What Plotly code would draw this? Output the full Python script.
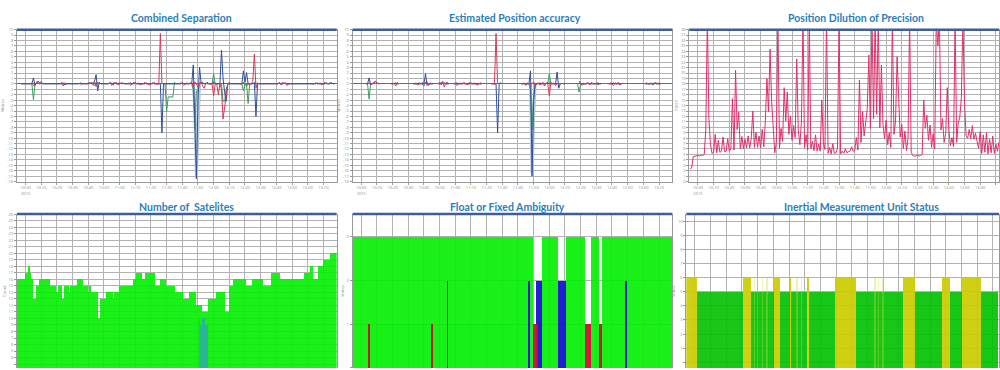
import plotly.graph_objects as go

N = None

# ---------------- shared time axis (sample index) and tick labels ----------------
t = list(range(204))
tick_vals = [5, 15, 25, 35, 45, 55, 65, 75, 85, 95, 105, 115, 125, 135, 145, 155, 165, 175, 185, 195]
tick_text = ["10:00<br>2015", "10:10", "10:20", "10:30", "10:40", "10:50", "11:00", "11:10", "11:20", "11:30",
             "11:40", "11:50", "12:00", "12:10", "12:20", "12:30", "12:40", "12:50", "13:00", "13:10"]

# ---------------- Combined Separation (m) ----------------
sep_red = [
    N, N, N, N, N, N, N, N, 0, 0.2,
    -0.3, 0.1, 0.3, 0.2, 0, 0.1, 0, N, N, N,
    N, N, N, N, N, N, N, 0, 0.3, -0.4,
    0.2, 0, N, N, N, N, N, N, N, N,
    -0.2, 0, N, N, 0, 0.2, 0, 0.3, -0.2, 0.4,
    -0.5, 0.3, 0, N, N, N, N, N, 0, 0.2,
    -0.3, 0.2, 0, 0.3, -0.2, 0, 0.2, 0, N, N,
    0, 0.2, -0.3, 0, 0.3, 0, 0, 0.2, -0.2, 0,
    0, 0.3, 0, 0, -0.2, 0, 0.2, 0, 0, 0,
    0, 9.3, 0, N, N, N, N, N, N, N,
    N, N, N, 0, 0.2, 0, -0.3, 0, 0.2, 0,
    0, 0.3, -0.5, 0.4, 0, -0.6, 0.2, 0.3, -0.4, -0.8,
    0.2, 0, 0, 0, 0, -2.2, 0, 0, -2.0, 0,
    -1.0, -6.5, -4.0, -2.5, 0, 0.3, 0, N, N, N,
    N, N, 0, 0, 0.3, 0, -0.4, 0, 0, 0,
    0.5, 5.5, -0.8, 0.2, 0, N, N, N, N, N,
    N, N, N, N, N, 0, 0, 0.2, -0.2, 0.3,
    0, 0.2, -0.3, 0, N, N, N, N, N, N,
    N, N, N, N, N, N, N, N, 0, 0,
    0.2, 0, 0, 0.2, -0.2, 0, 0.3, 0, 0, 0.2,
    0, N, N, N]
sep_blue = [
    N, N, 0, 0, 0, 0, 0, 0, 0, 0,
    1.1, -0.3, 0.3, 0.5, 0.2, 0.4, 0, 0, 0, 0,
    0, 0, 0, 0, 0, 0, 0, 0, 0, 0.2,
    -0.2, 0, 0, 0, 0, 0, 0, 0, 0, 0,
    0.2, 0, 0, 0, 0, 0, 0.3, 0, 0.2, 0.5,
    1.7, -1.3, 0.3, 0, 0, 0, 0, 0, 0, 0.3,
    0, -0.2, 0.3, 0, 0, 0.2, 0, 0.2, 0, 0,
    0, 0, 0.2, 0, 0, 0.3, 0, 0, 0, 0,
    0, 0, 0.2, 0, 0, 0, 0, 0.3, 0, 0,
    0, 0, -9.0, 0, 0, 0, 0, 0, 0, 0,
    0, 0, 0, 0, 0, 0.3, 0, 0, 0, 0,
    0.2, 0, 3.5, -6.0, -17.5, -3.0, 3.1, 0.2, 0.3, 0,
    0, 0.3, 0, 0, 0, 0.4, 0, 0, 0, 0,
    6.2, 1.0, -1.5, -3.2, 0, 0, 0, 0, 0, 0,
    0, 0, 0, 0, 2.4, 0.3, 2.1, 0, 0, 0,
    0, 0.3, -6.0, 0, 0, 0, 0, 0, 0, 0,
    0, 0, 0, 0, 0, 0, 0, 0.3, 0, 0,
    0.2, 0, 0, 0, 0, 0, 0, 0, 0, 0,
    0, 0, 0, 0, 0, 0, 0, 0, 0, 0,
    0, 0.2, 0, 0, 0, 0, 0, 0.2, 0, 0,
    0.3, 0, 0, N]
sep_green_t = [9, 10, 11, N, 48, 49, 50, 51, N, 94, 95, 96, 97, 98, 99, 100, 101, N,
               111, 112, 113, 114, 115, 116, N, 124, 125, 126, N, 130, 131, 132, 133, 134, N,
               143, 144, 145, 146, 147, 148]
sep_green = [0, -2.9, 0, N, 0, -0.4, 0.3, 0, N, 0, -5.1, -2.4, -2.4, -2.4, -2.4, 0.3, 0, N,
             0, -1.0, -8.4, -1.3, -1.3, 0, N, 0, 1.9, 0, N, 0, -3.2, -3.2, -1.0, 0, N,
             0, -1.3, 0, 0, -3.6, 0]
sep_env_t = [112, 113, 114, 115, 116]
sep_env = [0, -4.0, -17.0, -8.0, 0]

# ---------------- Estimated Position accuracy (m) ----------------
acc_red = [
    N, N, N, N, N, N, N, N, N, 0,
    0.2, -0.2, 0, 0.3, 0.4, 0.2, 0, N, N, N,
    N, N, N, N, N, 0, 0.2, -0.4, 0.3, 0,
    N, N, N, N, N, N, N, N, N, 0,
    0.2, -0.2, 0, 0, 0.3, 0, 0.2, 0.4, -0.3, 0.2,
    0, N, N, N, 0, 0.3, -0.2, 0.5, -0.6, 0.2,
    0.3, 0, N, N, 0, 0.2, -0.3, 0, 0.2, 0,
    0, 0.2, 0, -0.2, 0.3, 0, 0, 0.2, 0, -0.2,
    0, 0.2, 0, N, N, N, N, N, N, 0,
    0, 9.3, 0, N, N, N, N, N, N, N,
    N, N, N, N, N, N, N, N, 0, 0.2,
    -0.3, 0.2, 0, 0, 0, 0.4, -0.3, 0, 0.2, -0.2,
    0, 0.3, -0.4, 0.2, 0, -2.2, 0.3, 0, 0.2, -0.3,
    0, 0, 0, N, 0, 0.2, N, N, N, N,
    N, N, N, N, 0, 0.2, -0.3, 0, 0, 0.2,
    0, -0.2, 0.3, 0, 0, 0.2, -0.2, 0, N, N,
    N, N, N, 0, 0.2, 0, -0.3, 0.2, 0, 0.3,
    -0.2, 0, N, N, N, N, N, N, N, N,
    N, N, N, N, N, N, 0, 0.2, 0, 0,
    0.2, -0.2, 0, 0.3, 0, 0.2, 0, N, N, N,
    N, N, N, N]
acc_blue = [
    N, N, N, N, N, N, N, N, 0, 0,
    1.1, -0.2, 0, 0.3, 0.5, 0.2, 0, N, N, N,
    N, N, N, N, 0, 0, 0, 0.2, 0, 0,
    N, N, N, N, N, N, N, N, 0, 0,
    0, 0, 0.2, 0, 0, 0, 1.9, -0.3, 0, 0,
    0, 0, N, N, 0, 0, 0.3, 0, 0.2, 0,
    0, 0, N, N, 0, 0, 0.2, 0, 0, 0,
    0.2, 0, 0, 0, 0, 0.2, 0, 0, 0, 0,
    0, 0, 0, N, N, N, N, N, 0, 0,
    0, 0, -9.0, 0, 0.3, N, N, N, N, N,
    N, N, N, N, N, N, N, 0, 0, 0,
    0, 0, 0, 2.4, -17.0, -3.0, 0, 0, 0, 0.2,
    0, 0, 0, 0, 0.3, 0, 0, 0, 0, 0,
    2.2, -0.8, 0, N, 0, 0, N, N, N, N,
    N, N, N, N, 0.5, 0, 0, 0, 0, 0,
    0.2, 0, 0, 0, 0, 0, 0.2, 0, 0, N,
    N, N, N, 0, 0, 0, 0.2, 0, 0, 0,
    0, 0, N, N, N, N, N, N, N, N,
    N, N, N, N, N, N, 0, 0, 0, 0,
    0, 0, 0.2, 0, 0, 0, 0, N, N, N,
    N, N, N, N]
acc_green_t = [9, 10, 11, N, 44, 45, 46, 47, N, 112, 113, 114, 115, 116, N, 124, 125, 126, N, 143, 144, 145]
acc_green = [0, -2.8, 0, N, 0, -0.4, 0.3, 0, N, 0, -1.0, -8.4, -2.0, 0, N, 0, 1.9, 0, N, 0, -1.5, 0]
acc_env_t = [113, 114, 115, 116]
acc_env = [0, -16.5, -6.0, 0]

# ---------------- Position Dilution of Precision ----------------
pdop = [
    2.4, 2.5, 4.6, 4.7, 4.7, 4.8, 4.7, 4.9, 4.8, 5.0,
    9.5, 30, 11.6, 6.8, 5.2, 5.4, 8.7, 5.3, 7.6, 5.4,
    5.6, 8.2, 5.5, 5.6, 7.9, 5.6, 6.0, 15.3, 5.8, 20.5,
    9.6, 12.8, 6.0, 8.3, 6.1, 7.8, 6.2, 8.4, 6.2, 8.0,
    13.0, 6.3, 9.1, 6.3, 8.4, 6.2, 9.6, 6.4, 11.2, 19.0,
    12.9, 24.4, 14.8, 10.1, 5.3, 7.2, 30, 6.1, 9.8, 7.4,
    17.3, 11.2, 16.5, 8.7, 12.1, 7.6, 10.3, 8.1, 22.6, 9.4,
    6.8, 11.0, 30, 6.2, 8.6, 5.8, 30, 6.0, 7.4, 5.7,
    8.6, 5.6, 6.9, 5.6, 15.0, 7.1, 5.9, 30, 5.2, 6.3,
    5.1, 7.0, 5.2, 5.3, 6.1, 30, 5.1, 5.6, 5.2, 6.0,
    5.3, 5.5, 5.6, 6.4, 5.6, 5.7, 8.1, 5.8, 18.7, 7.2,
    12.9, 8.4, 10.9, 13.5, 23.3, 9.8, 30, 11.6, 30, 12.4,
    30, 9.9, 21.5, 10.6, 7.9, 11.3, 6.8, 9.0, 6.3, 30,
    8.7, 11.0, 23.0, 14.4, 8.2, 10.5, 6.1, 9.3, 5.7, 8.0,
    30, 5.4, 4.8, 4.7, 4.7, 4.9, 4.7, 4.8, 5.0, 15.0,
    9.8, 12.2, 7.6, 10.4, 6.3, 8.8, 6.0, 30, 25.0, 30,
    9.5, 11.6, 7.2, 8.9, 17.3, 9.7, 6.6, 8.1, 6.4, 30,
    7.2, 10.8, 11.9, 15.5, 30, 14.7, 8.4, 8.0, 9.6, 7.9,
    10.3, 7.8, 8.9, 7.4, 6.1, 9.2, 5.2, 8.6, 5.4, 9.0,
    5.1, 7.8, 5.3, 8.4, 5.2, 6.9, 5.6, 7.3]

# ---------------- Number of Satelites ----------------
sats = [
    16, 16, 16, 16, 16, 17, 17, 18, 17, 16,
    13, 13, 15, 15, 16, 16, 16, 16, 16, 16,
    16, 15, 15, 15, 15, 14, 15, 15, 15, 13,
    15, 15, 15, 14, 15, 15, 15, 15, 16, 16,
    16, 16, 15, 15, 15, 14, 15, 14, 14, 14,
    14, 14, 10, 13, 13, 13, 13, 14, 14, 14,
    14, 13, 14, 14, 14, 15, 15, 15, 15, 15,
    15, 15, 15, 15, 16, 16, 17, 17, 17, 17,
    16, 16, 17, 17, 17, 17, 17, 17, 15, 15,
    15, 16, 16, 16, 16, 15, 15, 15, 15, 15,
    15, 14, 14, 14, 14, 14, 13, 13, 13, 13,
    14, 14, 14, 14, 12, 12, 12, 12, 11, 11,
    11, 11, 13, 13, 13, 13, 13, 14, 14, 14,
    14, 14, 14, 11, 11, 15, 15, 15, 16, 16,
    16, 16, 16, 16, 16, 16, 15, 15, 15, 15,
    16, 16, 16, 16, 16, 16, 16, 15, 15, 15,
    15, 15, 17, 17, 17, 17, 17, 17, 16, 16,
    16, 16, 16, 16, 16, 16, 16, 16, 16, 16,
    16, 16, 16, 17, 17, 17, 17, 18, 18, 16,
    16, 16, 18, 18, 18, 19, 19, 19, 19, 19,
    20, 20, 20, 20]
sats_b_t = [116, 117, 118, 119, 120, 121]
sats_b = [10, 9, 10, 10, 9, 9]

# ---------------- Float or Fixed Ambiguity ----------------
amb_fixed = [
    3, 3, 3, 3, 3, 3, 3, 3, 3, 3,
    3, 3, 3, 3, 3, 3, 3, 3, 3, 3,
    3, 3, 3, 3, 3, 3, 3, 3, 3, 3,
    3, 3, 3, 3, 3, 3, 3, 3, 3, 3,
    3, 3, 3, 3, 3, 3, 3, 3, 3, 3,
    3, 3, 3, 3, 3, 3, 3, 3, 3, 3,
    3, 3, 3, 3, 3, 3, 3, 3, 3, 3,
    3, 3, 3, 3, 3, 3, 3, 3, 3, 3,
    3, 3, 3, 3, 3, 3, 3, 3, 3, 3,
    3, 3, 3, 3, 3, 3, 3, 3, 3, 3,
    3, 3, 3, 3, 3, 3, 3, 3, 3, 3,
    3, 3, 3, 3, 3, N, N, N, N, N,
    N, 3, 3, 3, 3, 3, 3, 3, 3, 3,
    3, N, N, N, N, N, 3, 3, 3, 3,
    3, 3, 3, 3, 3, 3, 3, 3, N, N,
    N, N, 3, 3, 3, 3, 3, N, N, 3,
    3, 3, 3, 3, 3, 3, 3, 3, 3, 3,
    3, 3, 3, 3, 3, 3, 3, 3, 3, 3,
    3, 3, 3, 3, 3, 3, 3, 3, 3, 3,
    3, 3, 3, 3, 3, 3, 3, 3, 3, 3,
    3, 3, 3, 3]
amb_blue_t = [60, 112, 117, 118, 119, 120, 131, 132, 133, 134, 135, 174]
amb_blue = [2, 2, 2, 2, 2, 2, 2, 2, 2, 2, 2, 2]
amb_red_t = [10, 50, 115, 116, 117, 148, 149, 150, 151, 157, 158]
amb_red = [1, 1, 1, 1, 1, 1, 1, 1, 1, 1, 1]

# ---------------- Inertial Measurement Unit Status ----------------
imu_status = [
    6, 6, 6, 6, 6, 6, 6, 5, 5, 5,
    5, 5, 5, 5, 5, 5, 5, 5, 5, 5,
    5, 5, 5, 5, 5, 5, 5, 5, 5, 5,
    5, 5, 5, 5, 5, 5, 6, 6, 6, 6,
    6, 5, 5, 5, 5, 5, 5, 5, 5, 5,
    5, 5, 5, 5, 5, 5, 6, 6, 6, 6,
    5, 5, 5, 5, 5, 5, 6, 5, 5, 5,
    5, 5, 5, 5, 5, 5, 5, 6, 5, 5,
    5, 5, 5, 5, 5, 5, 5, 5, 5, 5,
    5, 5, 5, 5, 5, 6, 6, 6, 6, 6,
    6, 6, 6, 6, 6, 6, 6, 6, 5, 5,
    5, 5, 5, 5, 5, 5, 5, 5, 5, 5,
    5, 5, 5, 5, 5, 5, 5, 5, 5, 5,
    5, 5, 5, 5, 5, 5, 5, 5, 6, 6,
    6, 6, 6, 6, 6, 6, 5, 5, 5, 5,
    5, 5, 5, 5, 5, 5, 5, 5, 5, 5,
    5, 5, 5, 6, 6, 6, 6, 6, 5, 5,
    5, 5, 5, 5, 5, 5, 6, 6, 6, 6,
    6, 6, 6, 6, 6, 6, 6, 6, 5, 5,
    5, 5, 5, 5, 5, 5, 5, 5, 5]
imu_faint_t = [43, 45, 48, 51, 70, 73, 120, 122, 125]
imu_faint = [6, 6, 6, 6, 6, 6, 6, 6, 6]

titles = ["Combined Separation", "Estimated Position accuracy", "Position Dilution of Precision",
          "Number of  Satelites", "Float or Fixed Ambiguity", "Inertial Measurement Unit Status"]
y_titles = ["Metres", "Metres", "PDOP", "Count", "Status", "Status"]

# y tick labels (lowest label of the bottom row left blank: it sits on the cut edge)
y_ticks = [
    list(range(-18, 11)), list(range(-18, 11)), list(range(0, 29)),
    list(range(3, 27)), [0, 1, 2, 3], list(range(0, 11))]
y_ticktext = [
    [str(v) for v in y_ticks[0]], [str(v) for v in y_ticks[1]], [str(v) for v in y_ticks[2]],
    [""] + [str(v) for v in y_ticks[3][1:]], ["", "1", "2", "3"], [""] + [str(v) for v in y_ticks[5][1:]]]

# ---------------- styling ----------------
GRID = "#b2b2b2"
LINE = "#9a9a9a"
TICKC = "#8c8c8c"
TITLE_C = "#2a80bd"
STRIP = "#3f5e96"
RED = "#d23c5a"
BLUE = "#2f4f9a"
GREEN = "#3aa05a"
ENV = "#b6c7da"
PINK = "#e0306a"
LIME = "#00f000"

fig = go.Figure()


def add_line(x, y, color, n, width=1.0):
    fig.add_trace(go.Scatter(x=x, y=y, mode="lines", line=dict(color=color, width=width),
                             xaxis="x" + n, yaxis="y" + n, hoverinfo="skip", connectgaps=False))


def add_bars(x, y, color, n, opacity=0.9, base=None):
    fig.add_trace(go.Bar(x=x, y=y, width=1, base=base, marker=dict(color=color, line=dict(width=0)),
                         opacity=opacity, xaxis="x" + n, yaxis="y" + n, hoverinfo="skip"))


# panel 1
add_line(sep_env_t, sep_env, ENV, "", 3)
add_line(sep_green_t, sep_green, GREEN, "")
add_line(t, sep_blue, BLUE, "")
add_line(t, sep_red, RED, "")
# panel 2
add_line(acc_env_t, acc_env, ENV, "2", 3)
add_line(acc_green_t, acc_green, GREEN, "2")
add_line(t, acc_blue, BLUE, "2")
add_line(t, acc_red, RED, "2")
# panel 3
add_line(t[:len(pdop)], pdop, PINK, "3")
# panel 4
add_bars(t, sats, LIME, "4", 0.9)
add_bars(sats_b_t, sats_b, "#2fb0a8", "4", 0.9)
# panel 5
add_bars(t, amb_fixed, LIME, "5", 0.9)
add_bars(amb_blue_t, amb_blue, "#1515cc", "5", 0.95)
add_bars(amb_red_t, amb_red, "#c8102e", "5", 0.95)
# panel 6 (bars start below the cut bottom edge)
imu_ok = [s + 1 if s == 5 else N for s in imu_status]
imu_warn = [s + 1 if s == 6 else N for s in imu_status]
imu_faint_h = [v + 1 for v in imu_faint]
add_bars(t[:len(imu_status)], imu_ok, "#00c000", "6", 0.9, base=-1)
add_bars(t[:len(imu_status)], imu_warn, "#cccc00", "6", 0.92, base=-1)
add_bars(imu_faint_t, imu_faint_h, "#d6d640", "6", 0.35, base=-1)

x_domains = [[0.017, 0.337], [0.353, 0.673], [0.690, 1.0], [0.017, 0.337], [0.353, 0.673], [0.687, 1.0]]
top_dom = [1 - 181 / 370, 1 - 27 / 370]
bot_dom = [0, 1 - 214 / 370]
x_ranges = [[-0.5, 203.5], [-0.5, 203.5], [-0.5, 197.0], [-0.5, 203.5], [-0.5, 203.5], [-0.5, 198.9]]
y_ranges = [[-18, 10], [-18, 10], [0, 28], [2.4, 26], [0, 3.52], [-0.4, 10.5]]

tickfont = dict(size=4, color=TICKC, family="Open Sans")
layout = dict(width=1000, height=370, margin=dict(l=0, r=0, t=0, b=0),
              paper_bgcolor="white", plot_bgcolor="white", showlegend=False,
              barmode="overlay", bargap=0, hovermode=False, dragmode=False)

for i in range(6):
    n = "" if i == 0 else str(i + 1)
    top = i < 3
    layout["xaxis" + n] = dict(
        domain=x_domains[i], range=x_ranges[i], anchor="y" + n,
        tickmode="array", tickvals=tick_vals, ticktext=tick_text,
        showticklabels=top, tickfont=tickfont, ticks="outside" if top else "", ticklen=2, tickcolor=LINE,
        showgrid=True, gridcolor=GRID, gridwidth=1, zeroline=False,
        showline=top, linecolor=LINE, linewidth=1, mirror=top)
    layout["yaxis" + n] = dict(
        domain=top_dom if top else bot_dom, range=y_ranges[i], anchor="x" + n,
        tickmode="array", tickvals=y_ticks[i], ticktext=y_ticktext[i],
        tickfont=tickfont, ticks="outside", ticklen=2, tickcolor=LINE,
        showgrid=True, gridcolor=GRID, gridwidth=1,
        zeroline=(i < 2), zerolinecolor="#6a6a6a", zerolinewidth=1,
        showline=True, linecolor=LINE, linewidth=1, mirror=True,
        title=dict(text=y_titles[i], font=dict(size=4, color=TICKC), standoff=2))

title_pos = [(182, 15), (516, 15), (857, 15), (187, 207), (508, 207), (862, 207)]
annotations = []
for (px, py), txt in zip(title_pos, titles):
    annotations.append(dict(text="<b>" + txt + "</b>", x=px / 1000, y=1 - py / 370,
                            xref="paper", yref="paper", xanchor="center", yanchor="middle",
                            showarrow=False, font=dict(family="Lato", size=10.5, color=TITLE_C)))
layout["annotations"] = annotations

shapes = []
for i in range(6):
    n = "" if i == 0 else str(i + 1)
    shapes.append(dict(type="line", xref="x" + n + " domain", yref="y" + n + " domain",
                       x0=0, x1=1, y0=1, y1=1, line=dict(color=STRIP, width=2.5), layer="above"))
layout["shapes"] = shapes

fig.update_layout(**layout)
fig.write_html("out.html", config={"displayModeBar": False, "staticPlot": True},
               post_script="document.body.style.margin='0px';document.body.style.overflow='hidden';")
